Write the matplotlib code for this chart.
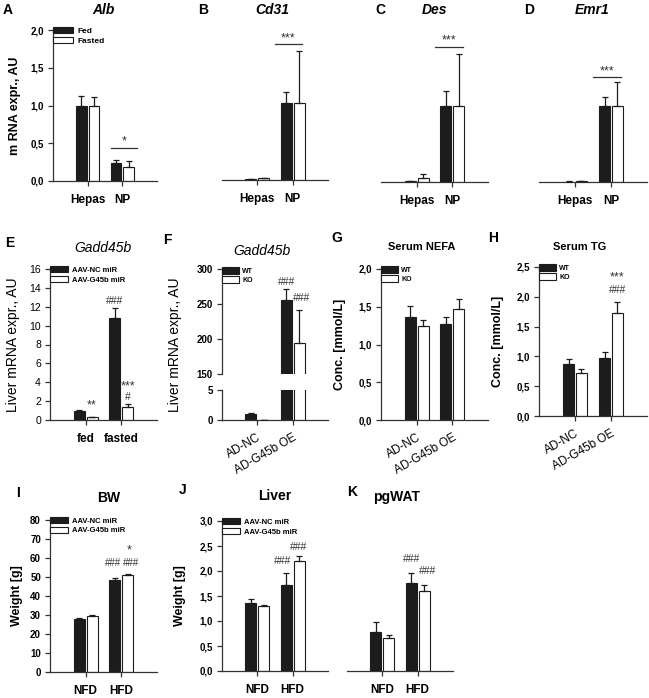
import numpy as np
import matplotlib
matplotlib.use('Agg')
import matplotlib.pyplot as plt

plt.rcParams['font.family'] = ['Liberation Sans', 'DejaVu Sans']

W, H = 649, 698
DARK = '#1c1c1c'
BW = 0.31
OFF = 0.18

# ---- row 1: mRNA in hepatocytes vs non-parenchymal cells ----
cells = ['Hepas', 'NP']
alb_fed, alb_fed_err = [1.00, 0.24], [0.12, 0.04]
alb_fast, alb_fast_err = [1.00, 0.18], [0.11, 0.08]
cd31_fed, cd31_fed_err = [0.01, 1.02], [0.005, 0.15]
cd31_fast, cd31_fast_err = [0.02, 1.02], [0.01, 0.69]
des_fed, des_fed_err = [0.01, 1.00], [0.005, 0.20]
des_fast, des_fast_err = [0.05, 1.00], [0.05, 0.70]
emr1_fed, emr1_fed_err = [0.005, 1.00], [0.003, 0.13]
emr1_fast, emr1_fast_err = [0.01, 1.00], [0.005, 0.33]

# ---- row 2 ----
feeding = ['fed', 'fasted']
e_nc, e_nc_err = [1.0, 10.8], [0.05, 1.1]
e_g45, e_g45_err = [0.3, 1.4], [0.05, 0.3]

adeno = ['AD-NC', 'AD-G45b OE']
f_wt, f_wt_err = [1.0, 256], [0.25, 16]
f_ko, f_ko_err = [0.03, 194], [0.02, 48]
nefa_wt, nefa_wt_err = [1.37, 1.27], [0.14, 0.10]
nefa_ko, nefa_ko_err = [1.24, 1.47], [0.09, 0.13]
tg_wt, tg_wt_err = [0.88, 0.97], [0.08, 0.10]
tg_ko, tg_ko_err = [0.72, 1.73], [0.07, 0.18]

# ---- row 3 ----
diet = ['NFD', 'HFD']
bw_nc, bw_nc_err = [28.0, 48.5], [0.6, 1.0]
bw_g45, bw_g45_err = [29.7, 51.0], [0.5, 0.4]
liv_nc, liv_nc_err = [1.37, 1.72], [0.08, 0.25]
liv_g45, liv_g45_err = [1.31, 2.20], [0.02, 0.10]
wat_nc, wat_nc_err = [0.78, 1.76], [0.20, 0.20]
wat_g45, wat_g45_err = [0.67, 1.60], [0.05, 0.12]


def pbox(x0, y0, x1, y1):
    return [x0 / W, 1 - y1 / H, (x1 - x0) / W, (y1 - y0) / H]


def comma(vals, nd=1):
    return [f'{v:.{nd}f}'.replace('.', ',') for v in vals]


def bars(ax, a, a_err, b, b_err, labels=None):
    x = np.arange(len(a))
    ax.bar(x - OFF, a, BW, color=DARK, edgecolor=DARK, lw=0.8, zorder=2, label=labels[0] if labels else None)
    ax.bar(x + OFF, b, BW, color='white', edgecolor=DARK, lw=0.8, zorder=2, label=labels[1] if labels else None)
    z = np.zeros(len(a))
    ax.errorbar(x - OFF, a, yerr=[z, a_err], fmt='none', ecolor=DARK, elinewidth=0.9,
                capsize=2.2, capthick=0.9, zorder=3)
    ax.errorbar(x + OFF, b, yerr=[z, b_err], fmt='none', ecolor=DARK, elinewidth=0.9,
                capsize=2.2, capthick=0.9, zorder=3)


def style(ax, ylim, yticks=None, ylabels=None, groups=None, rot=0, show_y=True,
          tick_w='bold', tick_fs=7, cat_w='bold', cat_fs=8.5):
    ax.set_xlim(-1, 2)
    ax.set_ylim(*ylim)
    for s in ['top', 'right']:
        ax.spines[s].set_visible(False)
    for s in ['left', 'bottom']:
        ax.spines[s].set_linewidth(0.9)
        ax.spines[s].set_color('#333333')
    ax.tick_params(axis='both', direction='out', length=3.5, width=0.9, color='#333333')
    if show_y:
        ax.set_yticks(yticks)
        ax.set_yticklabels(ylabels, fontsize=tick_fs, fontweight=tick_w)
        ax.tick_params(axis='y', pad=3)
    else:
        ax.spines['left'].set_visible(False)
        ax.set_yticks([])
    ax.set_xticks([0, 1])
    if groups is None:
        ax.set_xticklabels([])
    elif rot:
        ax.set_xticklabels(groups, rotation=rot, ha='right', rotation_mode='anchor',
                           fontsize=cat_fs, fontweight=cat_w)
        ax.tick_params(axis='x', pad=5)
    else:
        ax.set_xticklabels(groups, fontsize=cat_fs, fontweight=cat_w)
        ax.tick_params(axis='x', pad=6)


def legend(ax, labels_fs=5.5, hh=0.75):
    ax.legend(loc='upper left', bbox_to_anchor=(0.0, 1.02), frameon=False,
              prop={'size': labels_fs, 'weight': 'bold'}, handlelength=2.4, handleheight=hh,
              handletextpad=0.5, labelspacing=0.25, borderpad=0, borderaxespad=0)


def sig_line(ax, x0, x1, y, txt):
    ax.plot([x0, x1], [y, y], color='#333333', lw=0.9, clip_on=False)
    ax.text((x0 + x1) / 2, y, txt, ha='center', va='bottom', fontsize=9, color='#333333')


def mark(ax, x, y, txt, fs=7.5):
    ax.text(x, y, txt, ha='center', va='center', fontsize=fs, color='#333333', clip_on=False)


def letter(x, y, s):
    fig.text(x / W, 1 - y / H, s, ha='center', va='center', fontsize=10, fontweight='bold')


def title(x, y, s, italic=True, fs=10, weight='bold'):
    fig.text(x / W, 1 - y / H, s, ha='center', va='center', fontsize=fs, fontweight=weight,
             fontstyle='italic' if italic else 'normal')


fig = plt.figure(figsize=(W / 100, H / 100), dpi=100)

# ---------------- Row 1 ----------------
r1_ticks = [0, 0.5, 1.0, 1.5, 2.0]
axA = fig.add_axes(pbox(53, 30, 157, 181))
bars(axA, alb_fed, alb_fed_err, alb_fast, alb_fast_err, labels=['Fed', 'Fasted'])
style(axA, (0, 2.0), r1_ticks, comma(r1_ticks), cells)
axA.set_ylabel('m RNA expr., AU', fontsize=9, fontweight='bold')
axA.yaxis.set_label_coords(-0.31, 0.5)
legend(axA, 6, 0.7)
sig_line(axA, 0.66, 1.43, 0.44, '*')

axB = fig.add_axes(pbox(222, 29, 328, 180))
bars(axB, cd31_fed, cd31_fed_err, cd31_fast, cd31_fast_err)
style(axB, (0, 2.0), groups=cells, show_y=False)
sig_line(axB, 0.49, 1.26, 1.8, '***')

axC = fig.add_axes(pbox(381, 31, 488, 182))
bars(axC, des_fed, des_fed_err, des_fast, des_fast_err)
style(axC, (0, 2.0), groups=cells, show_y=False)
sig_line(axC, 0.51, 1.29, 1.79, '***')

axD = fig.add_axes(pbox(539, 31, 647, 182))
bars(axD, emr1_fed, emr1_fed_err, emr1_fast, emr1_fast_err)
style(axD, (0, 2.0), groups=cells, show_y=False)
sig_line(axD, 0.51, 1.29, 1.39, '***')

letter(8, 10, 'A'); title(103, 10, 'Alb')
letter(203, 10, 'B'); title(272, 10, 'Cd31')
letter(380, 10, 'C'); title(434, 10, 'Des')
letter(529, 10, 'D'); title(592, 10, 'Emr1')

# ---------------- Row 2 ----------------
e_ticks = list(range(0, 17, 2))
axE = fig.add_axes(pbox(50, 269, 157, 420))
bars(axE, e_nc, e_nc_err, e_g45, e_g45_err, labels=['AAV-NC miR', 'AAV-G45b miR'])
style(axE, (0, 16), e_ticks, [str(t) for t in e_ticks], feeding, tick_w='normal', tick_fs=7.5)
axE.set_ylabel('Liver mRNA expr., AU', fontsize=10)
axE.yaxis.set_label_coords(-0.28, 0.5)
legend(axE, 5.5, 0.9)
mark(axE, OFF, 1.5, '**', 9)
mark(axE, 1 - OFF, 12.6, '###')
mark(axE, 1 + OFF, 3.6, '***', 9)
mark(axE, 1 + OFF, 2.4, '#')

axF = fig.add_axes(pbox(222, 269, 328, 374))
bars(axF, f_wt, f_wt_err, f_ko, f_ko_err, labels=['WT', 'KO'])
f_top = [150, 200, 250, 300]
style(axF, (150, 300), f_top, [str(t) for t in f_top])
axF.spines['bottom'].set_visible(False)
axF.tick_params(axis='x', length=0)
legend(axF, 5, 1.1)
mark(axF, 1 - OFF, 281, '###')
mark(axF, 1 + OFF + 0.08, 259, '###')

axF2 = fig.add_axes(pbox(222, 390, 328, 420))
bars(axF2, f_wt, f_wt_err, f_ko, f_ko_err)
style(axF2, (0, 5), [0, 5], ['0', '5'], adeno, rot=30, cat_w='normal', cat_fs=8.5)
fig.text(175 / W, 1 - 345 / H, 'Liver mRNA expr., AU', rotation=90, ha='center', va='center', fontsize=10)

axG = fig.add_axes(pbox(381, 269, 488, 420))
bars(axG, nefa_wt, nefa_wt_err, nefa_ko, nefa_ko_err, labels=['WT', 'KO'])
g_ticks = [0, 0.5, 1.0, 1.5, 2.0]
style(axG, (0, 2.0), g_ticks, comma(g_ticks), adeno, rot=30, cat_w='normal')
axG.set_ylabel('Conc. [mmol/L]', fontsize=9, fontweight='bold')
axG.yaxis.set_label_coords(-0.33, 0.5)
legend(axG, 5, 1.1)

axH = fig.add_axes(pbox(539, 267, 647, 416))
bars(axH, tg_wt, tg_wt_err, tg_ko, tg_ko_err, labels=['WT', 'KO'])
h_ticks = [0, 0.5, 1.0, 1.5, 2.0, 2.5]
style(axH, (0, 2.5), h_ticks, comma(h_ticks), adeno, rot=30, cat_w='normal')
axH.set_ylabel('Conc. [mmol/L]', fontsize=9, fontweight='bold')
axH.yaxis.set_label_coords(-0.32, 0.5)
legend(axH, 5, 1.1)
mark(axH, 1 + OFF, 2.33, '***', 9)
mark(axH, 1 + OFF, 2.11, '###')

letter(10, 243, 'E'); title(103, 248, 'Gadd45b', weight='normal')
letter(167, 240, 'F'); title(262, 251, 'Gadd45b', weight='normal')
letter(337, 238, 'G'); title(422, 247, 'Serum NEFA', italic=False, fs=8)
letter(493, 238, 'H'); title(580, 247, 'Serum TG', italic=False, fs=8)

# ---------------- Row 3 ----------------
i_ticks = list(range(0, 81, 10))
axI = fig.add_axes(pbox(50, 520, 157, 672))
bars(axI, bw_nc, bw_nc_err, bw_g45, bw_g45_err, labels=['AAV-NC miR', 'AAV-G45b miR'])
style(axI, (0, 80), i_ticks, [str(t) for t in i_ticks], diet)
axI.set_ylabel('Weight [g]', fontsize=9, fontweight='bold')
axI.yaxis.set_label_coords(-0.25, 0.5)
legend(axI, 5.5, 0.9)
mark(axI, 1 - OFF - 0.04, 57.5, '###', 7)
mark(axI, 1 + OFF + 0.08, 57.5, '###', 7)
mark(axI, 1 + OFF + 0.04, 64, '*', 9)

j_ticks = [0, 0.5, 1.0, 1.5, 2.0, 2.5, 3.0]
axJ = fig.add_axes(pbox(222, 521, 328, 671))
bars(axJ, liv_nc, liv_nc_err, liv_g45, liv_g45_err, labels=['AAV-NC miR', 'AAV-G45b miR'])
style(axJ, (0, 3.0), j_ticks, comma(j_ticks), diet)
axJ.set_ylabel('Weight [g]', fontsize=9, fontweight='bold')
axJ.yaxis.set_label_coords(-0.34, 0.5)
legend(axJ, 5.5, 0.9)
mark(axJ, 1 - OFF - 0.1, 2.19, '###')
mark(axJ, 1 + OFF, 2.48, '###')

axK = fig.add_axes(pbox(347, 521, 453, 671))
bars(axK, wat_nc, wat_nc_err, wat_g45, wat_g45_err)
style(axK, (0, 3.0), groups=diet, show_y=False)
mark(axK, 1 - OFF, 2.23, '###')
mark(axK, 1 + OFF + 0.1, 1.99, '###')

letter(18, 493, 'I'); title(109, 498, 'BW', italic=False)
letter(183, 490, 'J'); title(275, 496, 'Liver', italic=False)
letter(352, 492, 'K'); title(396, 497, 'pgWAT', italic=False)

fig.savefig('out.png', dpi=100)
